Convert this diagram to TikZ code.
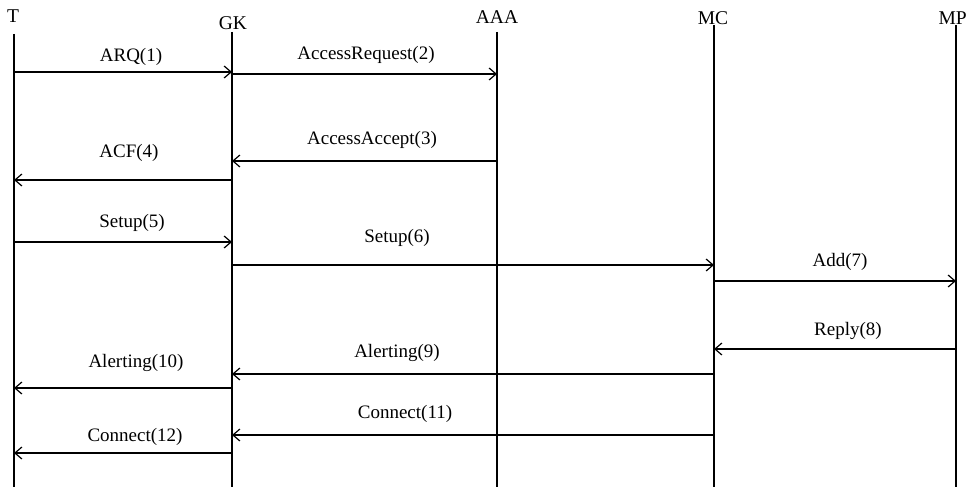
\documentclass[tikz,border=0pt]{standalone}
\usepackage{fontspec}
\setmainfont{Liberation Serif}
\usetikzlibrary{arrows.meta}

\begin{document}
\begin{tikzpicture}[x=1pt, y=-1pt,
    lifeline/.style={line width=2.6pt, draw=black},
    msg/.style={-{Straight Barb[length=7pt,width=12pt,line width=1.2pt]}, line width=1.2pt},
    party/.style={font=\fontsize{19.5}{22}\selectfont, inner sep=0pt},
    msglabel/.style={font=\fontsize{19}{22}\selectfont, inner sep=0pt}
  ]
    \useasboundingbox (0,0) rectangle (969,487);

    % parties
    \node[party] (T) at (13,16) {T};
    \node[party] (GK) at (233,23) {GK};
    \node[party] (AAA) at (497,17) {AAA};
    \node[party] (MC) at (713,18) {MC};
    \node[party, anchor=east] (MP) at (967,18) {MP};

    % lifelines
    \coordinate (t) at (14,34);
    \coordinate (gk) at (232,32);
    \coordinate (aaa) at (497,32);
    \coordinate (mc) at (714,25);
    \coordinate (mp) at (956,25);
    \coordinate (bottom) at (0,487);
    \draw[lifeline] (t) -- (t |- bottom);
    \draw[lifeline] (gk) -- (gk |- bottom);
    \draw[lifeline] (aaa) -- (aaa |- bottom);
    \draw[lifeline] (mc) -- (mc |- bottom);
    \draw[lifeline] (mp) -- (mp |- bottom);

    % message rows
    \coordinate (r1) at (0,72);
    \coordinate (r2) at (0,74);
    \coordinate (r3) at (0,161);
    \coordinate (r4) at (0,180);
    \coordinate (r5) at (0,242);
    \coordinate (r6) at (0,265);
    \coordinate (r7) at (0,281);
    \coordinate (r8) at (0,349);
    \coordinate (r9) at (0,374);
    \coordinate (r10) at (0,388);
    \coordinate (r11) at (0,435);
    \coordinate (r12) at (0,453);

    % messages
    \draw[msg] (t |- r1) -- (gk |- r1);
    \node[msglabel] (arq) at (131,57) {ARQ(1)};
    \draw[msg] (gk |- r2) -- (aaa |- r2);
    \node[msglabel] (accreq) at (366,55) {AccessRequest(2)};
    \draw[msg] (aaa |- r3) -- (gk |- r3);
    \node[msglabel] (accacc) at (372,140) {AccessAccept(3)};
    \draw[msg] (gk |- r4) -- (t |- r4);
    \node[msglabel] (acf) at (129,153) {ACF(4)};
    \draw[msg] (t |- r5) -- (gk |- r5);
    \node[msglabel] (setupa) at (132,223) {Setup(5)};
    \draw[msg] (gk |- r6) -- (mc |- r6);
    \node[msglabel] (setupb) at (397,238) {Setup(6)};
    \draw[msg] (mc |- r7) -- (mp |- r7);
    \node[msglabel] (add) at (840,262) {Add(7)};
    \draw[msg] (mp |- r8) -- (mc |- r8);
    \node[msglabel] (reply) at (848,331) {Reply(8)};
    \draw[msg] (mc |- r9) -- (gk |- r9);
    \node[msglabel] (alerta) at (397,353) {Alerting(9)};
    \draw[msg] (gk |- r10) -- (t |- r10);
    \node[msglabel] (alertb) at (136,363) {Alerting(10)};
    \draw[msg] (mc |- r11) -- (gk |- r11);
    \node[msglabel] (conna) at (405,414) {Connect(11)};
    \draw[msg] (gk |- r12) -- (t |- r12);
    \node[msglabel] (connb) at (135,437) {Connect(12)};
\end{tikzpicture}
\end{document}
